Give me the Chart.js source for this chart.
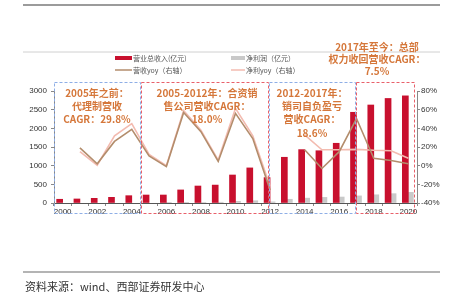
<!DOCTYPE html>
<html>
<head>
<meta charset="utf-8">
<script src="https://cdn.jsdelivr.net/npm/chart.js@4"></script>
<style>
    html, body { margin: 0; padding: 0; background: #fff; }
    #wrap { position: relative; width: 453px; height: 307px; overflow: hidden; }
</style>
</head>
<body>
<div id="wrap"><canvas id="mainChart" width="453" height="307"></canvas></div>
<script>
const years = ['2000', '2001', '2002', '2003', '2004', '2005', '2006', '2007', '2008', '2009', '2010',
    '2011', '2012', '2013', '2014', '2015', '2016', '2017', '2018', '2019', '2020'];
// 营业总收入(亿元)
const revenue = [100, 108, 125, 152, 196, 214, 214, 350, 455, 480, 750, 940, 680, 1225, 1430, 1400, 1600, 2430, 2625, 2800, 2870];
// 净利润(亿元)
const netProfit = [null, null, null, null, null, null, 5, 8, 12, 20, 45, 60, 30, 100, 130, 150, 160, 190, 220, 250, 285];
// 营收yoy / 净利yoy (%)
const revenueYoy = [null, 19, 2, 26, 39, 10.5, -1, 57, 36.5, 4.5, 56, 29, -26, null, 17, -3, 15, 50.5, 8, 5.5, 2];
const profitYoy = [null, 15, 0.5, 32, 45, 12, 0, 59, 38, 6, 61.5, 32, -22, null, 33, 17, 17, 17.5, 16.5, 16, 8];

const leftTicks = [0, 500, 1000, 1500, 2000, 2500, 3000];
const rightTicks = [-40, -20, 0, 20, 40, 60, 80];

const RED = '#c8102e';
const GREY = '#c9c9c9';
const BROWN = '#b38d6c';
const PINK = '#f3bbb0';
const NOTE = '#d5773a';
const CJK = '"Noto Sans CJK SC", sans-serif';

// dashed period boxes, in category units
const periods = [
    { from: -0.5, to: 4.45, color: '#8eaee6' },
    { from: 4.55, to: 11.88, color: '#e8606a' },
    { from: 11.95, to: 16.91, color: '#8eaee6' },
    { from: 16.97, to: 20.33, color: '#e8606a' }
];

const notes = [
    { x: 97, y: 93, lines: ['2005年之前：', '代理制营收', 'CAGR：29.8%'] },
    { x: 207, y: 93, lines: ['2005-2012年：合资销', '售公司营收CAGR：', '18.0%'] },
    { x: 312, y: 93, lines: ['2012-2017年：', '销司自负盈亏', '营收CAGR：', '18.6%'] },
    { x: 377, y: 47, step: 12, lines: ['2017年至今：总部', '权力收回营收CAGR：', '7.5%'] }
];

function rule(ctx, y, color, width) {
    ctx.save();
    ctx.strokeStyle = color;
    ctx.lineWidth = width;
    ctx.beginPath();
    ctx.moveTo(23, y);
    ctx.lineTo(440, y);
    ctx.stroke();
    ctx.restore();
}

const decorPlugin = {
    id: 'decor',
    afterDatasetsDraw(chart) {
        const ctx = chart.ctx;
        const x = chart.scales.x;
        const area = chart.chartArea;
        const step = x.getPixelForValue(1) - x.getPixelForValue(0);
        const xAt = idx => x.getPixelForValue(0) + idx * step;

        // period boxes
        ctx.save();
        ctx.lineWidth = 1;
        ctx.setLineDash([3, 2]);
        periods.forEach(p => {
            ctx.strokeStyle = p.color;
            const x0 = Math.round(xAt(p.from)) + 0.5;
            const x1 = Math.round(xAt(p.to)) + 0.5;
            ctx.strokeRect(x0, area.top - 8.5, x1 - x0, area.bottom - area.top + 19);
        });
        ctx.restore();

        // top and bottom rules
        rule(ctx, 5, '#7a7a7a', 1.5);
        rule(ctx, 52, '#d0d0d0', 1);
        rule(ctx, 272, '#6a6a6a', 1.2);

        // notes
        ctx.save();
        ctx.fillStyle = NOTE;
        ctx.font = 'bold 10px ' + CJK;
        ctx.textAlign = 'center';
        ctx.textBaseline = 'middle';
        notes.forEach(n => {
            n.lines.forEach((t, i) => ctx.fillText(t, n.x, n.y + i * (n.step || 13.3)));
        });
        ctx.restore();

        // legend
        ctx.save();
        ctx.font = '7px ' + CJK;
        ctx.textBaseline = 'middle';
        ctx.fillStyle = RED;
        ctx.fillRect(115, 56, 17, 4);
        ctx.fillStyle = GREY;
        ctx.fillRect(231, 56, 14, 4);
        ctx.lineWidth = 1.5;
        ctx.strokeStyle = BROWN;
        ctx.beginPath(); ctx.moveTo(115, 70); ctx.lineTo(132, 70); ctx.stroke();
        ctx.strokeStyle = PINK;
        ctx.beginPath(); ctx.moveTo(231, 70); ctx.lineTo(245, 70); ctx.stroke();
        ctx.fillStyle = '#555';
        ctx.fillText('营业总收入(亿元)', 133, 58);
        ctx.fillText('净利润（亿元）', 246, 58);
        ctx.fillText('营收yoy（右轴）', 133, 70);
        ctx.fillText('净利yoy（右轴）', 246, 70);
        ctx.restore();

        // source
        ctx.save();
        ctx.font = '11px ' + CJK;
        ctx.fillStyle = '#333';
        ctx.textBaseline = 'middle';
        ctx.fillText('资料来源：wind、西部证券研发中心', 25, 287);
        ctx.restore();
    }
};

const tickFont = { family: '"Liberation Sans", Arial, sans-serif', size: 8 };

new Chart(document.getElementById('mainChart'), {
    data: {
        labels: years,
        datasets: [
            {
                type: 'line', label: '营收yoy（右轴）', data: revenueYoy, yAxisID: 'y1',
                borderColor: BROWN, borderWidth: 1.6, pointRadius: 0, tension: 0, order: 1
            },
            {
                type: 'line', label: '净利yoy（右轴）', data: profitYoy, yAxisID: 'y1',
                borderColor: PINK, borderWidth: 1.6, pointRadius: 0, tension: 0, order: 2
            },
            {
                type: 'bar', label: '营业总收入(亿元)', data: revenue, yAxisID: 'y',
                backgroundColor: RED, barThickness: 6, order: 3
            },
            {
                type: 'bar', label: '净利润（亿元）', data: netProfit, yAxisID: 'y',
                backgroundColor: GREY, barThickness: 5, order: 4
            }
        ]
    },
    options: {
        responsive: false,
        animation: false,
        layout: { padding: { top: 91, left: 20, right: 10, bottom: 90 } },
        plugins: { legend: { display: false }, tooltip: { enabled: false } },
        scales: {
            x: {
                offset: true,
                grid: { display: true, drawOnChartArea: false, offset: true, tickLength: 3, color: '#888' },
                border: { color: '#555', width: 1 },
                ticks: {
                    autoSkip: false, maxRotation: 0, padding: 1, color: '#333', font: tickFont,
                    callback: (v, i) => (i % 2 === 0 ? years[i] : '')
                },
                afterFit: axis => { axis.height = 14; }
            },
            y: {
                position: 'left', min: 0, max: 3000,
                grid: { display: true, drawOnChartArea: false, tickLength: 3, color: '#888' },
                border: { color: '#888' },
                afterBuildTicks: axis => { axis.ticks = leftTicks.map(v => ({ value: v })); },
                ticks: { padding: 4, color: '#333', font: tickFont, callback: v => String(v) },
                afterFit: axis => { axis.width = 34; }
            },
            y1: {
                position: 'right', min: -40, max: 80,
                grid: { display: true, drawOnChartArea: false, tickLength: 3, color: '#888' },
                border: { color: '#888' },
                afterBuildTicks: axis => { axis.ticks = rightTicks.map(v => ({ value: v })); },
                ticks: { padding: 1, color: '#333', font: tickFont, callback: v => v + '%' },
                afterFit: axis => { axis.width = 26; }
            }
        }
    },
    plugins: [decorPlugin]
});
</script>
</body>
</html>
